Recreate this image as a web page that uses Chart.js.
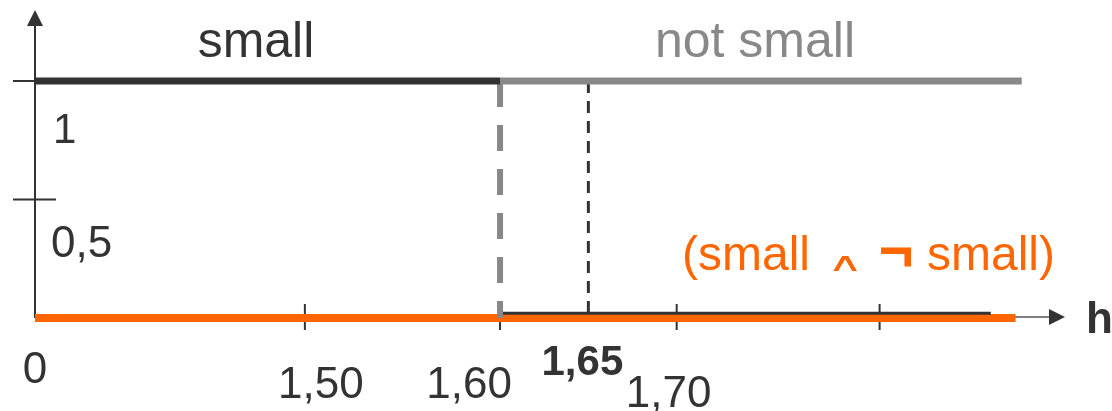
<!DOCTYPE html>
<html>
<head>
  <title>small / not small</title>
  <script src="https://cdn.jsdelivr.net/npm/chart.js@4/dist/chart.umd.min.js"></script>
  <style>
    body { margin: 0; background: #fff; }
    canvas { display: block; }
  </style>
</head>
<body>
  <canvas id="myChart" width="1112" height="411"></canvas>

  <script>
    // tick values and labels
    var hTicks = [0, 1.50, 1.60, 1.70, 1.80];
    var xTickLabels = ['0', '1,50', '1,60', '1,70', ''];
    var yTicks = [0.5, 1];
    var yTickLabels = ['0,5', '1'];

    // membership curves (h, mu)
    var smallH = [0, 1.60];
    var smallMu = [1, 1];
    var smallTailH = [1.60, 1.854];
    var smallTailMu = [0.02, 0.02];
    var edgeH = [1.60, 1.60];
    var edgeMu = [1, 0];
    var notSmallH = [1.60, 1.869];
    var notSmallMu = [1, 1];
    var markH = [1.65, 1.65];
    var markMu = [1, 0];
    var bothH = [0, 1.866];
    var bothMu = [0, 0];
    var markLabel = '1,65';

    // the h axis is a schematic (broken) axis: piecewise-linear mapping
    var axisH = [0, 1.50, 1.60, 1.70, 1.80, 1.89];
    var axisU = [0, 0.262, 0.4515, 0.623, 0.820, 1];

    function toU(h) {
      for (var i = 0; i < axisH.length - 1; i++) {
        if (h <= axisH[i + 1] || i == axisH.length - 2) {
          var t = (h - axisH[i]) / (axisH[i + 1] - axisH[i]);
          return axisU[i] + t * (axisU[i + 1] - axisU[i]);
        }
      }
    }

    function pts(hs, mus) {
      return hs.map(function(h, i) { return { x: toU(h), y: mus[i] }; });
    }

    var FONT = "'Liberation Sans', Arial, sans-serif";
    var DARK = '#333333';
    var GREY = '#888888';
    var ORANGE = '#ff6600';

    function line(data, color, width, order, dash) {
      return {
        data: data,
        borderColor: color,
        borderWidth: width,
        borderDash: dash || [],
        pointRadius: 0,
        tension: 0,
        fill: false,
        clip: false,
        order: order
      };
    }

    var axesPlugin = {
      id: 'axes',
      beforeDatasetsDraw: function(chart) {
        var ctx = chart.ctx, xs = chart.scales.x, ys = chart.scales.y, a = chart.chartArea;
        var x0 = xs.getPixelForValue(0), y0 = ys.getPixelForValue(0);
        ctx.save();
        ctx.strokeStyle = DARK;
        ctx.fillStyle = DARK;
        // y axis + arrow
        ctx.lineWidth = 2;
        ctx.beginPath(); ctx.moveTo(x0, y0); ctx.lineTo(x0, a.top + 14); ctx.stroke();
        ctx.beginPath(); ctx.moveTo(x0, a.top); ctx.lineTo(x0 - 8, a.top + 16); ctx.lineTo(x0 + 8, a.top + 16); ctx.closePath(); ctx.fill();
        // x axis + arrow
        ctx.strokeStyle = '#555';
        ctx.lineWidth = 1.5;
        ctx.beginPath(); ctx.moveTo(x0, y0 - 1); ctx.lineTo(a.right - 14, y0 - 1); ctx.stroke();
        ctx.beginPath(); ctx.moveTo(a.right, y0 - 1); ctx.lineTo(a.right - 16, y0 - 9); ctx.lineTo(a.right - 16, y0 + 7); ctx.closePath(); ctx.fill();
        // ticks
        ctx.strokeStyle = DARK;
        ctx.lineWidth = 2;
        yTicks.forEach(function(v) {
          var y = ys.getPixelForValue(v);
          ctx.beginPath(); ctx.moveTo(x0 - 22, y); ctx.lineTo(x0 + 21, y); ctx.stroke();
        });
        hTicks.forEach(function(h) {
          if (h === 0) return;
          var x = xs.getPixelForValue(toU(h));
          ctx.beginPath(); ctx.moveTo(x, y0 - 14); ctx.lineTo(x, y0 + 12); ctx.stroke();
        });
        ctx.restore();
      },
      afterDatasetsDraw: function(chart) {
        var ctx = chart.ctx, xs = chart.scales.x, ys = chart.scales.y;
        var x0 = xs.getPixelForValue(0), y0 = ys.getPixelForValue(0);
        ctx.save();
        ctx.textBaseline = 'alphabetic';

        // x tick labels
        var xOff = [0, 16, -31, -8, 0];
        var yOff = [65, 80, 80, 89, 80];
        ctx.font = '44px ' + FONT;
        ctx.fillStyle = DARK;
        ctx.textAlign = 'center';
        hTicks.forEach(function(h, i) {
          ctx.fillText(xTickLabels[i], xs.getPixelForValue(toU(h)) + xOff[i], y0 + yOff[i]);
        });
        ctx.font = 'bold 42px ' + FONT;
        ctx.fillText(markLabel, xs.getPixelForValue(toU(markH[0])) - 6, y0 + 57);

        // y tick labels (placed below their ticks)
        ctx.textAlign = 'left';
        ctx.font = '44px ' + FONT;
        ctx.fillText(yTickLabels[0], x0 + 16, ys.getPixelForValue(yTicks[0]) + 57);
        ctx.font = '42px ' + FONT;
        ctx.fillText(yTickLabels[1], x0 + 18, ys.getPixelForValue(yTicks[1]) + 62);

        // axis name
        ctx.font = 'bold 44px ' + FONT;
        ctx.fillText('h', 1086, y0 + 15);

        // curve names
        ctx.textAlign = 'center';
        ctx.font = '50px ' + FONT;
        ctx.fillStyle = DARK;
        ctx.fillText('small', 256, 57);
        ctx.fillStyle = GREY;
        ctx.fillText('not small', 755, 57);

        // (small ∧ ¬ small), operators drawn at their own sizes
        ctx.fillStyle = ORANGE;
        ctx.textAlign = 'left';
        ctx.font = '48px ' + FONT;
        ctx.fillText('(small', 682, 270);
        ctx.save();
        ctx.textAlign = 'center';
        ctx.translate(845, 271);
        ctx.scale(1.05, 0.55);
        ctx.font = '48px ' + FONT;
        ctx.fillText('\u2227', 0, 0);
        ctx.restore();
        ctx.textAlign = 'center';
        ctx.font = 'bold 60px ' + FONT;
        ctx.fillText('\u00ac', 896, 271);
        ctx.textAlign = 'left';
        ctx.font = '48px ' + FONT;
        ctx.fillText('small)', 927, 270);
        ctx.restore();
      }
    };

    var ctx = document.getElementById('myChart').getContext('2d');
    var myChart = new Chart(ctx, {
      type: 'line',
      data: {
        datasets: [
          line(pts(smallH, smallMu), DARK, 7, 0),
          line(pts(notSmallH, notSmallMu), GREY, 7, 2),
          line(pts(edgeH, edgeMu), GREY, 6, 1, [26, 18]),
          line(pts(markH, markMu), DARK, 3, 3, [12, 8]),
          line(pts(smallTailH, smallTailMu), DARK, 3, 4),
          line(pts(bothH, bothMu), ORANGE, 8, 5)
        ]
      },
      options: {
        responsive: false,
        animation: false,
        devicePixelRatio: 1,
        layout: { padding: { left: 35, right: 47, top: 10, bottom: 93 } },
        plugins: { legend: { display: false }, tooltip: { enabled: false } },
        scales: {
          x: { type: 'linear', min: 0, max: 1, display: false },
          y: { type: 'linear', min: 0, max: 1.30, display: false }
        }
      },
      plugins: [axesPlugin]
    });
  </script>
</body>
</html>
